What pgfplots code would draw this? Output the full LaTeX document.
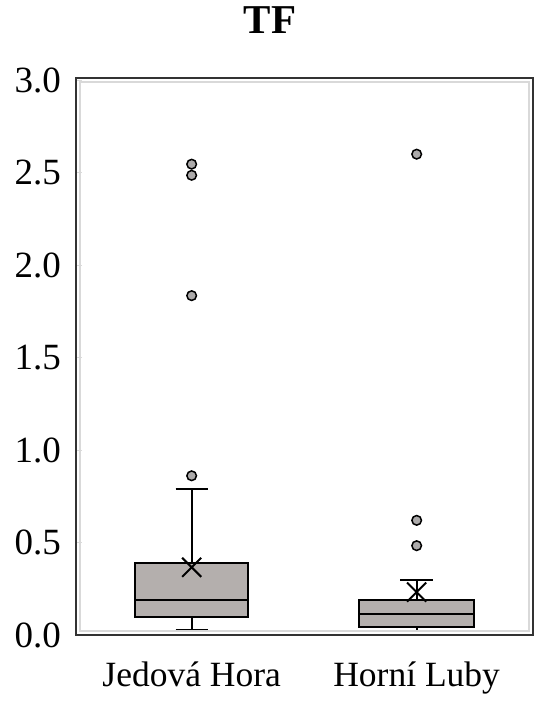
\documentclass[border=0pt]{standalone}
\usepackage{pgfplots}
\pgfplotsset{compat=1.18}
\usepgfplotslibrary{statistics}
\usepackage{fontspec}
\setmainfont{Liberation Serif}
\definecolor{boxgray}{RGB}{180,175,173}
\definecolor{outgray}{RGB}{172,170,170}
\begin{document}
\begin{tikzpicture}
\useasboundingbox (-76pt,-68pt) rectangle (474pt,635pt);
\begin{axis}[
  scale only axis,
  width=457pt, height=557pt,
  at={(0,0)}, anchor=south west,
  xmin=0.486, xmax=2.517,
  ymin=0, ymax=3.012,
  xtick={1,2},
  xticklabels={Jedová Hora, Horní Luby},
  ytick={0,0.5,1,1.5,2,2.5,3},
  /pgf/number format/assume math mode=true,
  yticklabel style={/pgf/number format/fixed, /pgf/number format/fixed zerofill, /pgf/number format/precision=1, inner sep=0pt, xshift=-15pt, anchor=east},
  xticklabel style={inner sep=0pt, anchor=base, yshift=-51pt},
  ticklabel style={font=\fontsize{37}{40}\selectfont},
  x tick label style={font=\fontsize{35.5}{40}\selectfont},
  xtick style={draw=none},
  ytick pos=left,
  tick align=inside,
  major tick length=6pt,
  ytick style={draw=black!15, line width=1pt},
  axis line style={draw=black!80, line width=1.5pt},
  title={\textbf{TF}},
  title style={font=\fontsize{41}{44}\selectfont, at={(rel axis cs:0.4245,1)}, anchor=base, yshift=38.4pt, inner sep=0pt},
  after end axis/.code={
    \draw[black!15, line width=1.5pt] ([shift={(4pt,4pt)}]rel axis cs:0,0) rectangle ([shift={(-4pt,-4pt)}]rel axis cs:1,1);
  },
  boxplot/draw direction=y,
  boxplot/every whisker/.style={line width=2pt, draw=black},
  boxplot/every box/.style={line width=2pt, draw=black, fill=boxgray},
  boxplot/every median/.style={line width=2pt, draw=black},
  boxplot/every average/.style={/tikz/mark=x, /tikz/mark size=13.5pt, /tikz/mark options={draw=black, line width=2pt, fill=none}},
]
\addplot[draw=black, fill=boxgray, line width=2pt,
  mark=*, mark size=4.8pt, mark options={fill=outgray, draw=black, line width=1.5pt},
  boxplot prepared={draw position=1, lower whisker=0.027, lower quartile=0.099, median=0.189, upper quartile=0.39, upper whisker=0.79, average=0.366, box extend=0.5, whisker extend=0.142}]
  coordinates {(1,2.546) (1,2.486) (1,1.835) (1,0.861)};
\addplot[draw=black, fill=boxgray, line width=2pt,
  mark=*, mark size=4.8pt, mark options={fill=outgray, draw=black, line width=1.5pt},
  boxplot prepared={draw position=2, lower whisker=0.02, lower quartile=0.042, median=0.112, upper quartile=0.189, upper whisker=0.297, average=0.232, box extend=0.51, whisker extend=0.145}]
  coordinates {(2,2.60) (2,0.620) (2,0.483)};
\end{axis}
\end{tikzpicture}
\end{document}
